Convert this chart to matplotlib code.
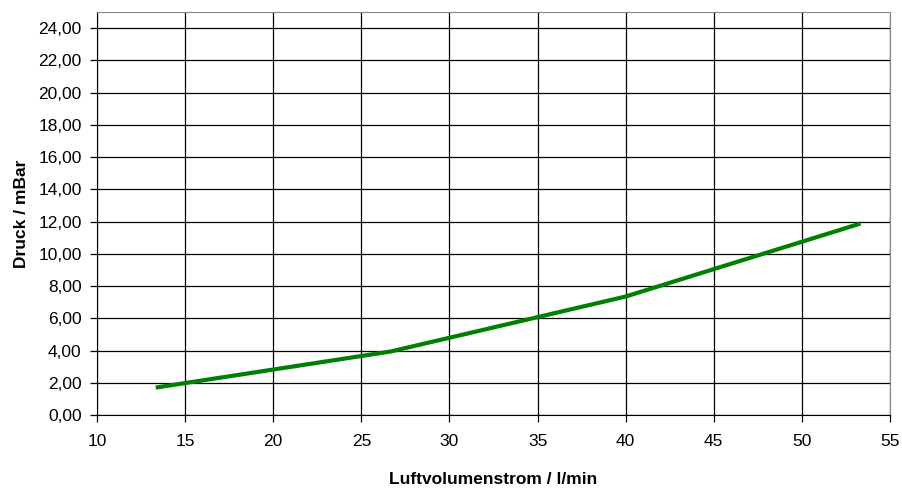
import matplotlib
matplotlib.use("Agg")
import matplotlib.pyplot as plt
from matplotlib.ticker import FuncFormatter

# data
luftstrom = [13.33, 26.67, 40.0, 53.33]   # l/min
druck = [1.70, 3.94, 7.35, 11.88]         # mBar

x_ticks = [10, 15, 20, 25, 30, 35, 40, 45, 50, 55]
y_ticks = [0, 2, 4, 6, 8, 10, 12, 14, 16, 18, 20, 22, 24]

plt.rcParams['font.family'] = ['Liberation Sans', 'DejaVu Sans']

fig = plt.figure(figsize=(9.03, 4.93), dpi=100)
ax = fig.add_axes([97/903, 1 - 415/493, (890-97)/903, (415-12)/493])

ax.plot(luftstrom, druck, color='#008000', lw=3, solid_capstyle='butt', zorder=3)

ax.set_xlim(10, 55)
ax.set_ylim(0, 25)
ax.set_xticks(x_ticks)
ax.set_yticks(y_ticks)
ax.yaxis.set_major_formatter(FuncFormatter(lambda v, p: ('%.2f' % v).replace('.', ',')))
ax.grid(True, color='black', lw=0.9)
ax.set_axisbelow(True)

ax.tick_params(direction='out', length=5, width=0.9, labelsize=12.5, pad=6, color='black')
ax.tick_params(axis='x', pad=9)
for s in ['left', 'bottom']:
    ax.spines[s].set_color('black')
for s in ['top', 'right']:
    ax.spines[s].set_color('#888888')

ax.set_xlabel('Luftvolumenstrom / l/min', fontsize=12.5, fontweight='bold', labelpad=16)
ax.set_ylabel('Druck / mBar', fontsize=12.5, fontweight='bold', labelpad=7)

fig.savefig('out.png', dpi=100)
